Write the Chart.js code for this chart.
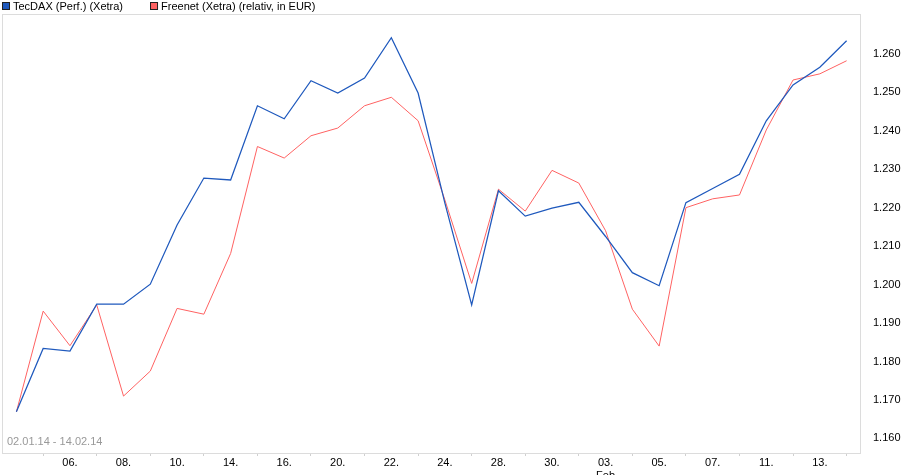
<!DOCTYPE html>
<html>
<head>
<meta charset="utf-8">
<script src="https://cdn.jsdelivr.net/npm/chart.js@4.4.0/dist/chart.umd.min.js"></script>
<style>
  body { margin: 0; background: #fff; }
  canvas { display: block; }
</style>
</head>
<body>
<canvas id="chart" width="907" height="475"></canvas>
<script>
// trading days 02.01.14 - 14.02.14
const dates = [
  '02.01.', '03.01.', '06.01.', '07.01.', '08.01.', '09.01.', '10.01.', '13.01.',
  '14.01.', '15.01.', '16.01.', '17.01.', '20.01.', '21.01.', '22.01.', '23.01.',
  '24.01.', '27.01.', '28.01.', '29.01.', '30.01.', '31.01.', '03.02.', '04.02.',
  '05.02.', '06.02.', '07.02.', '10.02.', '11.02.', '12.02.', '13.02.', '14.02.'
];
const xTickLabels = [
  '', '', '06.', '', '08.', '', '10.', '', '14.', '', '16.', '', '20.', '', '22.', '',
  '24.', '', '28.', '', '30.', '', ['03.', 'Feb'], '', '05.', '', '07.', '', '11.', '', '13.', ''
];
const tecdax = [
  1.1669, 1.1834, 1.1827, 1.1949, 1.1949, 1.2001, 1.2155, 1.2277,
  1.2272, 1.2465, 1.2431, 1.2530, 1.2498, 1.2537, 1.2642, 1.2498,
  1.2212, 1.1947, 1.2244, 1.2178, 1.2199, 1.2214, 1.2125, 1.2031,
  1.1997, 1.2213, 1.2250, 1.2287, 1.2426, 1.2519, 1.2565, 1.2634
];
const freenet = [
  1.1669, 1.1931, 1.1841, 1.1947, 1.1710, 1.1775, 1.1938, 1.1923,
  1.2081, 1.2359, 1.2329, 1.2387, 1.2407, 1.2465, 1.2487, 1.2426,
  1.2220, 1.2003, 1.2248, 1.2191, 1.2297, 1.2264, 1.2140, 1.1936,
  1.1840, 1.2200, 1.2223, 1.2233, 1.2402, 1.2532, 1.2548, 1.2582
];
const yTicks = [1.16, 1.17, 1.18, 1.19, 1.20, 1.21, 1.22, 1.23, 1.24, 1.25, 1.26];
const rangeText = '02.01.14 - 14.02.14';

Chart.defaults.font.family = '"Liberation Sans", Arial, sans-serif';
Chart.defaults.font.size = 11;
Chart.defaults.color = '#000';

// frame, legend and date range text
const decorations = {
  id: 'decorations',
  beforeDatasetsDraw(chart) {
    const { ctx, chartArea: a } = chart;
    ctx.save();
    ctx.strokeStyle = '#dcdcdc';
    ctx.lineWidth = 1;
    ctx.strokeRect(a.left - 0.5, a.top - 0.5, a.right - a.left + 1, a.bottom - a.top + 1);
    ctx.fillStyle = '#999';
    ctx.font = '11px "Liberation Sans", Arial, sans-serif';
    ctx.textBaseline = 'middle';
    ctx.fillText(rangeText, a.left + 4, a.bottom - 11);
    ctx.restore();
  },
  afterDraw(chart) {
    const ctx = chart.ctx;
    ctx.save();
    ctx.font = '11px "Liberation Sans", Arial, sans-serif';
    ctx.textBaseline = 'middle';
    let x = 2;
    chart.data.datasets.forEach(ds => {
      ctx.fillStyle = ds.borderColor;
      ctx.fillRect(x, 2, 8, 8);
      ctx.strokeStyle = '#222';
      ctx.strokeRect(x + 0.5, 2.5, 7, 7);
      ctx.fillStyle = '#000';
      ctx.fillText(ds.label, x + 11, 7);
      x += 11 + ctx.measureText(ds.label).width + 27;
    });
    ctx.restore();
  }
};

new Chart(document.getElementById('chart').getContext('2d'), {
  type: 'line',
  data: {
    labels: dates,
    datasets: [
      {
        label: 'TecDAX (Perf.) (Xetra)',
        data: tecdax,
        borderColor: '#1f59bd',
        borderWidth: 1.25,
        pointRadius: 0,
        tension: 0,
        order: 1
      },
      {
        label: 'Freenet (Xetra) (relativ, in EUR)',
        data: freenet,
        borderColor: '#ff6262',
        borderWidth: 1,
        pointRadius: 0,
        tension: 0,
        order: 2
      }
    ]
  },
  options: {
    responsive: false,
    animation: false,
    layout: { padding: { left: 3, top: 15, right: 0, bottom: 0 } },
    plugins: { legend: { display: false }, tooltip: { enabled: false } },
    scales: {
      x: {
        type: 'category',
        offset: true,
        border: { display: false },
        grid: {
          drawOnChartArea: false,
          tickLength: 3,
          color: c => (c.index % 2 ? '#d0d0d0' : 'rgba(0,0,0,0)')
        },
        ticks: {
          autoSkip: false,
          maxRotation: 0,
          padding: 0,
          callback: (v, i) => xTickLabels[i]
        },
        afterFit: s => { s.height = 22; }
      },
      y: {
        position: 'right',
        min: 1.1562,
        max: 1.2701,
        border: { display: false },
        grid: { display: false },
        afterBuildTicks: s => { s.ticks = yTicks.map(value => ({ value })); },
        ticks: {
          padding: 5,
          callback: v => v.toFixed(3)
        },
        afterFit: s => { s.width = 47; }
      }
    }
  },
  plugins: [decorations]
});
</script>
</body>
</html>
